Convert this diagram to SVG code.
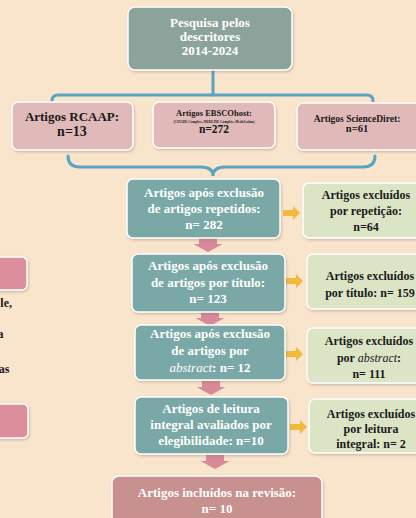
<svg xmlns="http://www.w3.org/2000/svg" width="416" height="518" viewBox="0 0 416 518">
<defs>
<filter id="sh" x="-10%" y="-10%" width="120%" height="130%">
<feDropShadow dx="1" dy="1.5" stdDeviation="1" flood-color="#7a6a5a" flood-opacity="0.35"/>
</filter>
<path id="down" d="M-9,0 H9 V6 H14.5 L0,14 L-14.5,6 H-9 Z"/>
<path id="right" d="M0,-3 H10 V-7 L17,0 L10,7 V3 H0 Z"/>
</defs>
<style>
.box{stroke:#fff;stroke-width:1.5;filter:url(#sh)}
.top{fill:#8CA39B}
.src{fill:#E0B9B9}
.teal{fill:#7AA8A6}
.green{fill:#DBE5C5}
.final{fill:#C8908F}
.side{fill:#DC8E9C}
.t{font-family:"Liberation Serif","Times New Roman",serif;font-weight:bold;text-anchor:middle}
.w{fill:#fff;font-size:13px}
.d{fill:#1a1a1a;font-size:12px}
.link{fill:none;stroke:#5AA3C1;stroke-width:3;stroke-linecap:round}
.pa{fill:#D98A98}
.ya{fill:#F2BA3C}
</style>
<rect width="416" height="518" fill="#F9E4CC"/>

<g id="connectors">
<path class="link" d="M213,70 V95"/>
<path class="link" d="M52,101 Q52,95 58,95 H367 Q373,95 373,101"/>
<path class="link" d="M68,156 Q68,167 80,167 H201 Q213,167 213,176 Q213,167 225,167 H363 Q375,167 375,156"/>
<use href="#down" class="pa" x="208" y="238"/>
<use href="#down" class="pa" x="210" y="312"/>
<use href="#down" class="pa" x="211" y="381"/>
<use href="#down" class="pa" x="215" y="455"/>
<use href="#right" class="ya" x="283" y="213"/>
<use href="#right" class="ya" x="286" y="281"/>
<use href="#right" class="ya" x="286" y="354"/>
<use href="#right" class="ya" x="290" y="427"/>
</g>

<g id="side">
<rect class="box side" x="-10" y="257" width="37" height="33" rx="5"/>
<rect class="box side" x="-10" y="404" width="38" height="34" rx="5"/>
<text x="12" y="307" style="font-family:'Liberation Serif',serif;font-weight:bold;font-size:12px;fill:#1a1a1a;text-anchor:end">le,</text>
<text x="3.5" y="338" style="font-family:'Liberation Serif',serif;font-weight:bold;font-size:12px;fill:#1a1a1a;text-anchor:end">a</text>
<text x="9.5" y="373" style="font-family:'Liberation Serif',serif;font-weight:bold;font-size:12px;fill:#1a1a1a;text-anchor:end">as</text>
</g>

<g id="n-pesquisa">
<rect class="box top" x="128" y="7" width="164" height="63" rx="7"/>
<text class="t w" x="210" y="27" font-size="12.5">Pesquisa pelos</text>
<text class="t w" x="210" y="41">descritores</text>
<text class="t w" x="210" y="55">2014-2024</text>
</g>

<g id="n-rcaap">
<rect class="box src" x="12" y="102" width="121" height="48" rx="6"/>
<text class="t d" x="72" y="121" style="font-size:13px">Artigos RCAAP:</text>
<text class="t d" x="72" y="136" style="font-size:14px">n=13</text>
</g>

<g id="n-ebsco">
<rect class="box src" x="153" y="102" width="122" height="46" rx="6"/>
<text class="t d" x="214" y="116" style="font-size:8.5px">Artigos EBSCOhost:</text>
<text class="t d" x="214" y="122.5" style="font-size:3.3px">(CINAHL Complete, MEDLINE Complete, MedicLatina)</text>
<text class="t d" x="214" y="133" style="font-size:11.5px">n=272</text>
</g>

<g id="n-science">
<rect class="box src" x="297" y="103" width="125" height="47" rx="6"/>
<text class="t d" x="357" y="122" style="font-size:9.5px">Artigos ScienceDiret:</text>
<text class="t d" x="357" y="132" style="font-size:10.5px">n=61</text>
</g>

<g id="n-repetidos">
<rect class="box teal" x="127" y="179" width="153" height="59" rx="6"/>
<text class="t w" x="204" y="197">Artigos após exclusão</text>
<text class="t w" x="204" y="213">de artigos repetidos:</text>
<text class="t w" x="204" y="229">n= 282</text>
</g>

<g id="n-excl-rep">
<rect class="box green" x="303" y="183" width="126" height="55" rx="6"/>
<text class="t d" x="366" y="199">Artigos excluídos</text>
<text class="t d" x="366" y="215">por repetição:</text>
<text class="t d" x="366" y="231">n=64</text>
</g>

<g id="n-titulo">
<rect class="box teal" x="132" y="254" width="153" height="58" rx="6"/>
<text class="t w" x="208" y="270">Artigos após exclusão</text>
<text class="t w" x="208" y="287">de artigos por título:</text>
<text class="t w" x="208" y="303">n= 123</text>
</g>

<g id="n-excl-tit">
<rect class="box green" x="307" y="254" width="126" height="55" rx="6"/>
<text class="t d" x="370" y="280">Artigos excluídos</text>
<text class="t d" x="370" y="297">por título: n= 159</text>
</g>

<g id="n-abstract">
<rect class="box teal" x="135" y="325" width="150" height="55" rx="6"/>
<text class="t w" x="210" y="338">Artigos após exclusão</text>
<text class="t w" x="210" y="355">de artigos por</text>
<text class="t w" x="210" y="372"><tspan font-style="italic" font-weight="normal">abstract</tspan>: n= 12</text>
</g>

<g id="n-excl-abs">
<rect class="box green" x="307" y="328" width="126" height="55" rx="6"/>
<text class="t d" x="369" y="345">Artigos excluídos</text>
<text class="t d" x="369" y="362">por <tspan font-style="italic" font-weight="normal">abstract</tspan>:</text>
<text class="t d" x="369" y="378">n= 111</text>
</g>

<g id="n-leitura">
<rect class="box teal" x="135" y="397" width="153" height="57" rx="6"/>
<text class="t w" x="211" y="413">Artigos de leitura</text>
<text class="t w" x="211" y="429">integral avaliados por</text>
<text class="t w" x="211" y="445">elegibilidade: n=10</text>
</g>

<g id="n-excl-leit">
<rect class="box green" x="309" y="399" width="126" height="54" rx="6"/>
<text class="t d" x="371" y="418">Artigos excluídos</text>
<text class="t d" x="371" y="433">por leitura</text>
<text class="t d" x="371" y="448">integral: n= 2</text>
</g>

<g id="n-incluidos">
<rect class="box final" x="112" y="476" width="210" height="60" rx="7"/>
<text class="t w" x="217" y="497">Artigos incluídos na revisão:</text>
<text class="t w" x="217" y="513">n= 10</text>
</g>
</svg>
